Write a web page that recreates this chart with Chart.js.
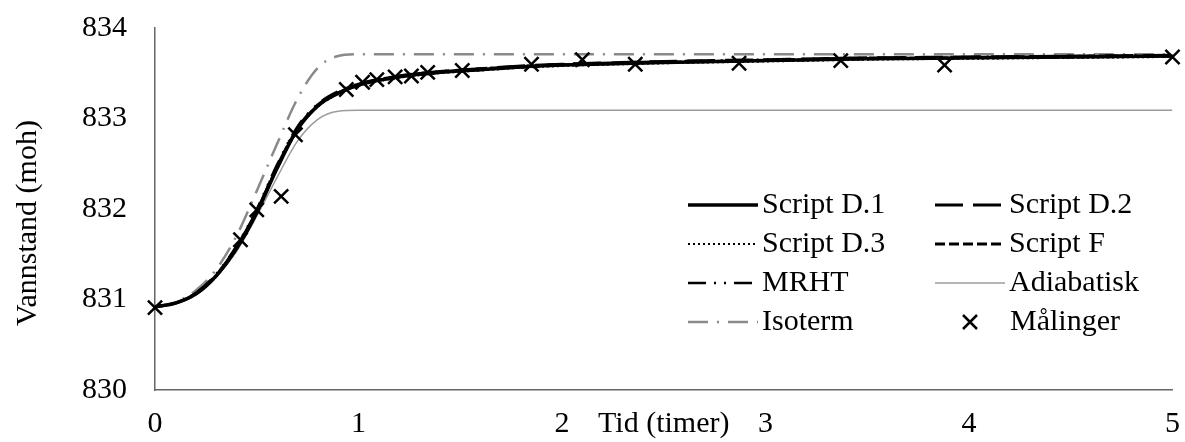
<!DOCTYPE html>
<html>
<head>
<meta charset="utf-8">
<title>Vannstand</title>
<script src="https://cdn.jsdelivr.net/npm/chart.js@4.4.1/dist/chart.umd.min.js"></script>
<style>
  body { margin: 0; background: #fff; }
  #wrap { width: 1185px; height: 442px; }
</style>
</head>
<body>
<div id="wrap"><canvas id="levelChart" width="1185" height="442"></canvas></div>
<script>
// tid i timer for de beregnede kurvene
const timer = [0, 0.1, 0.2, 0.3, 0.4, 0.5, 0.6, 0.7, 0.8, 0.9, 1.0, 1.2, 1.4, 1.6, 1.8, 2.0, 2.5, 3.0, 3.5, 4.0, 4.5, 5.0];

const scriptD1 = [830.92, 830.96, 831.06, 831.26, 831.56, 831.96, 832.45, 832.88, 833.14, 833.28, 833.37, 833.46, 833.51, 833.54, 833.57, 833.59, 833.62, 833.64, 833.66, 833.67, 833.68, 833.69];
const scriptD2 = [830.92, 830.96, 831.07, 831.27, 831.58, 831.98, 832.47, 832.89, 833.15, 833.29, 833.38, 833.47, 833.52, 833.55, 833.58, 833.60, 833.63, 833.65, 833.67, 833.68, 833.69, 833.70];
const scriptD3 = [830.92, 830.96, 831.06, 831.25, 831.55, 831.95, 832.44, 832.87, 833.13, 833.27, 833.36, 833.45, 833.50, 833.53, 833.56, 833.58, 833.61, 833.63, 833.65, 833.66, 833.67, 833.68];
const scriptF = [830.92, 830.96, 831.06, 831.26, 831.57, 831.97, 832.46, 832.88, 833.14, 833.28, 833.37, 833.46, 833.51, 833.55, 833.57, 833.59, 833.62, 833.64, 833.66, 833.67, 833.68, 833.69];
const mrht = [830.92, 830.96, 831.07, 831.28, 831.59, 832.00, 832.49, 832.91, 833.16, 833.30, 833.38, 833.47, 833.52, 833.55, 833.58, 833.60, 833.63, 833.65, 833.67, 833.68, 833.69, 833.70];
const adiabatisk = [830.92, 830.96, 831.06, 831.25, 831.53, 831.92, 832.35, 832.75, 832.99, 833.08, 833.09, 833.09, 833.09, 833.09, 833.09, 833.09, 833.09, 833.09, 833.09, 833.09, 833.09, 833.09];
const isoterm = [830.92, 830.97, 831.10, 831.33, 831.70, 832.20, 832.72, 833.22, 833.56, 833.69, 833.71, 833.71, 833.71, 833.71, 833.71, 833.71, 833.71, 833.71, 833.71, 833.71, 833.71, 833.71];

// målinger
const maalingTid = [0, 0.42, 0.5, 0.62, 0.69, 0.94, 1.02, 1.09, 1.18, 1.26, 1.34, 1.51, 1.85, 2.10, 2.36, 2.87, 3.37, 3.88, 5.0];
const maalingNivaa = [830.91, 831.66, 831.99, 832.14, 832.82, 833.32, 833.40, 833.43, 833.46, 833.47, 833.51, 833.53, 833.60, 833.65, 833.60, 833.61, 833.64, 833.59, 833.68];

const xTicks = [0, 1, 2, 3, 4, 5];
const yTicks = [830, 831, 832, 833, 834];

const FONT = "'Liberation Serif', 'Times New Roman', serif";

function toPoints(xs, ys) {
  return xs.map((x, i) => ({ x: x, y: ys[i] }));
}

function curve(label, values, color, width, dash, order) {
  return {
    label: label,
    data: toPoints(timer, values),
    borderColor: color,
    borderWidth: width,
    borderDash: dash,
    pointRadius: 0,
    fill: false,
    cubicInterpolationMode: 'monotone',
    order: order,
  };
}

const datasets = [
  curve('Script D.1', scriptD1, '#000000', 3.5, [], 1),
  curve('Script D.2', scriptD2, '#000000', 3, [28, 10], 2),
  curve('Script D.3', scriptD3, '#000000', 2, [2, 3], 2),
  curve('Script F', scriptF, '#000000', 3, [10, 4], 2),
  curve('MRHT', mrht, '#000000', 2.5, [18, 8, 2, 8, 2, 8], 3),
  curve('Adiabatisk', adiabatisk, '#9c9c9c', 1.5, [], 4),
  curve('Isoterm', isoterm, '#8a8a8a', 2.5, [20, 9, 2, 9], 5),
  {
    label: 'Målinger',
    data: toPoints(maalingTid, maalingNivaa),
    showLine: false,
    pointStyle: 'crossRot',
    pointRadius: 10,
    pointBorderWidth: 2.5,
    borderColor: '#000000',
    backgroundColor: '#000000',
    clip: false,
    order: 0,
  },
];

// legend in two columns inside the plot area
const legendPlugin = {
  id: 'gridLegend',
  afterDraw(chart) {
    const ctx = chart.ctx;
    const colX = [688, 935];
    ctx.save();
    ctx.font = '30px ' + FONT;
    ctx.textBaseline = 'middle';
    ctx.textAlign = 'left';
    chart.data.datasets.forEach((ds, i) => {
      const x0 = colX[i % 2];
      const y = 205 + Math.floor(i / 2) * 39;
      if (ds.showLine === false) {
        const cx = x0 + 35, r = 7;
        ctx.strokeStyle = ds.borderColor;
        ctx.lineWidth = 2.5;
        ctx.setLineDash([]);
        ctx.beginPath();
        ctx.moveTo(cx - r, y - r); ctx.lineTo(cx + r, y + r);
        ctx.moveTo(cx - r, y + r); ctx.lineTo(cx + r, y - r);
        ctx.stroke();
        ctx.fillStyle = '#000';
        ctx.fillText(ds.label, x0 + 75, y);
      } else {
        ctx.strokeStyle = ds.borderColor;
        ctx.lineWidth = ds.borderWidth;
        ctx.setLineDash(ds.borderDash);
        ctx.beginPath();
        ctx.moveTo(x0, y);
        ctx.lineTo(x0 + 70, y);
        ctx.stroke();
        ctx.setLineDash([]);
        ctx.fillStyle = '#000';
        ctx.fillText(ds.label, x0 + 74, y);
      }
    });
    ctx.restore();
  }
};

// y axis title, sits a little below the middle of the axis like the original
const yTitlePlugin = {
  id: 'yTitle',
  afterDraw(chart) {
    const ctx = chart.ctx;
    const mid = (chart.chartArea.top + chart.chartArea.bottom) / 2 + 14;
    ctx.save();
    ctx.translate(28, mid);
    ctx.rotate(-Math.PI / 2);
    ctx.font = '30px ' + FONT;
    ctx.fillStyle = '#000';
    ctx.textAlign = 'center';
    ctx.textBaseline = 'middle';
    ctx.fillText('Vannstand (moh)', 0, 0);
    ctx.restore();
  }
};

const ctx = document.getElementById('levelChart').getContext('2d');

const myChart = new Chart(ctx, {
  type: 'line',
  data: { datasets: datasets },
  options: {
    responsive: false,
    animation: false,
    layout: { padding: { top: 28, right: 9, bottom: 0, left: 0 } },
    plugins: {
      legend: { display: false },
      tooltip: { enabled: false },
    },
    scales: {
      x: {
        type: 'linear',
        min: xTicks[0],
        max: xTicks[xTicks.length - 1],
        afterBuildTicks: (s) => { s.ticks = xTicks.map(v => ({ value: v })); },
        afterFit: (s) => { s.height = 52; s.paddingLeft = 0; s.paddingRight = 0; },
        grid: { display: false, drawTicks: false },
        border: { display: true, color: '#666666', width: 1.5 },
        ticks: { color: '#000', font: { family: FONT, size: 30 }, padding: 16, maxRotation: 0 },
        title: {
          display: true,
          text: 'Tid (timer)',
          color: '#000',
          font: { family: FONT, size: 30 },
          padding: { top: 0, bottom: 0 },
        },
      },
      y: {
        type: 'linear',
        min: yTicks[0],
        max: yTicks[yTicks.length - 1],
        afterBuildTicks: (s) => { s.ticks = yTicks.map(v => ({ value: v })); },
        afterFit: (s) => { s.width = 155; s.paddingTop = 0; s.paddingBottom = 0; },
        grid: { display: false, drawTicks: false },
        border: { display: true, color: '#666666', width: 1.5 },
        ticks: { color: '#000', font: { family: FONT, size: 30 }, padding: 28 },
      },
    },
  },
  plugins: [legendPlugin, yTitlePlugin],
});
</script>
</body>
</html>
